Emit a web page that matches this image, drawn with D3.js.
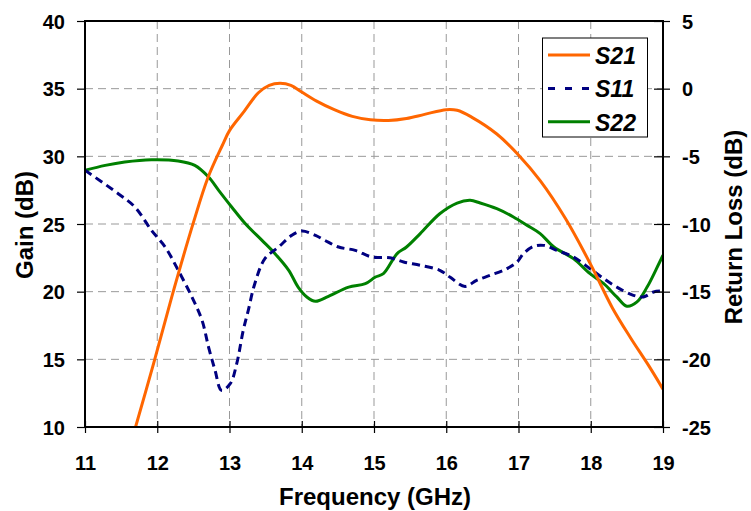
<!DOCTYPE html>
<html><head><meta charset="utf-8">
<script src="https://cdn.jsdelivr.net/npm/d3@7/dist/d3.min.js"></script>
<style>body{margin:0;background:#fff}text{font-family:"Liberation Sans",Arial,sans-serif;font-weight:bold;fill:#000}</style>
</head><body>
<script>
// Data
const s21Freq = [11.70,11.95,12.2,12.5,12.7,12.9,13.0,13.2,13.4,13.55,13.7,13.85,14.0,14.2,14.45,14.7,14.95,15.2,15.45,15.7,16.0,16.15,16.35,16.7,17.0,17.3,17.65,18.0,18.3,18.55,18.8,19.0];
const s21Gain = [10.0,14.7,19.6,25.1,28.4,30.8,31.9,33.3,34.7,35.25,35.4,35.25,34.75,34.1,33.45,32.95,32.7,32.65,32.8,33.1,33.45,33.4,32.9,31.65,30.1,28.2,25.4,22.0,18.8,16.6,14.55,12.8];
const s11Freq = [11.0,11.46,11.69,11.92,12.11,12.29,12.48,12.62,12.71,12.80,12.89,13.01,13.10,13.19,13.26,13.35,13.49,13.68,13.86,14.0,14.19,14.32,14.51,14.74,14.97,15.22,15.41,15.64,15.91,16.05,16.26,16.42,16.61,16.84,16.98,17.07,17.21,17.35,17.53,17.76,17.99,18.18,18.36,18.59,18.73,18.87,19.0];
const s11RL = [-6.03,-7.76,-8.74,-10.47,-11.7,-13.42,-15.39,-17.12,-19.09,-20.81,-22.29,-21.8,-20.32,-17.86,-16.38,-14.41,-12.56,-11.7,-10.84,-10.52,-10.84,-11.21,-11.7,-11.95,-12.44,-12.49,-12.81,-13.05,-13.42,-13.92,-14.61,-14.16,-13.79,-13.3,-12.81,-12.19,-11.65,-11.58,-11.95,-12.44,-13.3,-14.04,-14.66,-15.27,-15.39,-15.02,-14.95];
const s22Freq = [11.0,11.28,11.55,11.92,12.29,12.52,12.71,12.85,13.03,13.22,13.45,13.63,13.82,13.95,14.07,14.19,14.37,14.65,14.88,15.02,15.13,15.32,15.45,15.64,15.91,16.15,16.33,16.47,16.70,16.93,17.12,17.30,17.49,17.76,17.99,18.18,18.36,18.50,18.64,18.78,18.91,19.0];
const s22RL = [-6.03,-5.67,-5.42,-5.25,-5.34,-5.67,-6.53,-7.51,-8.74,-9.98,-11.21,-12.19,-13.42,-14.66,-15.39,-15.71,-15.34,-14.66,-14.41,-13.92,-13.67,-12.19,-11.7,-10.71,-9.24,-8.45,-8.25,-8.45,-8.87,-9.48,-10.1,-10.71,-11.7,-12.56,-13.67,-14.41,-15.39,-16.08,-15.76,-14.66,-13.3,-12.31];
const xTicks = [11,12,13,14,15,16,17,18,19];
const gainTicks = [10,15,20,25,30,35,40];
const rlTicks = [-25,-20,-15,-10,-5,0,5];
const seriesNames = ["S21","S11","S22"];
const seriesColors = ["#FF6600","#000080","#008000"];

const W = 751, H = 511;
const m = {l:85, r:88, t:21, b:84};
const svg = d3.select("body").append("svg").attr("width",W).attr("height",H);
const x = d3.scaleLinear().domain([11,19]).range([m.l, W-m.r]);
const yL = d3.scaleLinear().domain([10,40]).range([H-m.b, m.t]);
const yR = d3.scaleLinear().domain([-25,5]).range([H-m.b, m.t]);

// grid
const g = svg.append("g");
g.selectAll("line.v").data(xTicks.slice(1,-1)).join("line")
  .attr("x1",d=>x(d)).attr("x2",d=>x(d)).attr("y1",m.t).attr("y2",H-m.b)
  .attr("stroke","#999").attr("stroke-width",1).attr("stroke-dasharray","8,5");
g.selectAll("line.h").data(gainTicks.slice(1,-1)).join("line")
  .attr("y1",d=>yL(d)).attr("y2",d=>yL(d)).attr("x1",m.l).attr("x2",W-m.r)
  .attr("stroke","#999").attr("stroke-width",1).attr("stroke-dasharray","8,5");

// lines
const mk = (xs, ys, ysc) => xs.map((f,i)=>[x(f), ysc(ys[i])]);
const line = d3.line().curve(d3.curveCatmullRom.alpha(0.5));
svg.append("clipPath").attr("id","c").append("rect").attr("x",m.l).attr("y",m.t).attr("width",W-m.r-m.l).attr("height",H-m.b-m.t);
const plot = svg.append("g").attr("clip-path","url(#c)");
plot.append("path").attr("d",line(mk(s22Freq,s22RL,yR))).attr("fill","none").attr("stroke",seriesColors[2]).attr("stroke-width",3);
plot.append("path").attr("d",line(mk(s11Freq,s11RL,yR))).attr("fill","none").attr("stroke",seriesColors[1]).attr("stroke-width",3).attr("stroke-dasharray","8,5");
plot.append("path").attr("d",line(mk(s21Freq,s21Gain,yL))).attr("fill","none").attr("stroke",seriesColors[0]).attr("stroke-width",3);

// frame
svg.append("rect").attr("x",m.l).attr("y",m.t).attr("width",W-m.r-m.l).attr("height",H-m.b-m.t)
  .attr("fill","none").attr("stroke","#000").attr("stroke-width",2);

// axes
const fs = "20px";
const fmt = d => String(d);
const ax = svg.append("g").attr("transform",`translate(0,${H-m.b})`)
  .call(d3.axisBottom(x).tickValues(xTicks).tickSize(6).tickFormat(fmt));
const al = svg.append("g").attr("transform",`translate(${m.l},0)`)
  .call(d3.axisLeft(yL).tickValues(gainTicks).tickSize(8).tickFormat(fmt));
const ar = svg.append("g").attr("transform",`translate(${W-m.r},0)`)
  .call(d3.axisRight(yR).tickValues(rlTicks).tickSize(7).tickFormat(fmt));
[ax,al,ar].forEach(a=>{
  a.select(".domain").remove();
  a.selectAll(".tick line").attr("stroke","#000").attr("stroke-width",1.2);
  a.selectAll("text").style("font-size",fs).style("font-weight","bold").attr("font-family",null);
});
ax.selectAll(".tick line").attr("y1",-6);
ax.selectAll("text").attr("dy",null).attr("y",43);
al.selectAll("text").attr("x",-20).attr("dy","0.36em");
ar.selectAll(".tick line").attr("x1",-9);
ar.selectAll("text").attr("x",19).attr("dy","0.36em");

// titles
svg.append("text").attr("x",375).attr("y",505).attr("text-anchor","middle").style("font-size","24px").text("Frequency (GHz)");
svg.append("text").attr("transform",`translate(33,225) rotate(-90)`).attr("text-anchor","middle").style("font-size","24px").text("Gain (dB)");
svg.append("text").attr("transform",`translate(742,227) rotate(-90)`).attr("text-anchor","middle").style("font-size","24px").text("Return Loss (dB)");

// legend
const lg = svg.append("g");
lg.append("rect").attr("x",542.5).attr("y",38).attr("width",105).attr("height",99).attr("fill","#fff").attr("stroke","#000").attr("stroke-width",1);
seriesNames.forEach((n,i)=>{
  const yy = 55 + i*33.4;
  lg.append("line").attr("x1",548).attr("x2",590).attr("y1",yy).attr("y2",yy)
    .attr("stroke",seriesColors[i]).attr("stroke-width",3).attr("stroke-dasharray", i===1 ? "7,10" : null);
  lg.append("text").attr("x",595).attr("y",yy+9).style("font-size","23px").style("font-style","italic").text(n);
});
</script>
</body></html>
